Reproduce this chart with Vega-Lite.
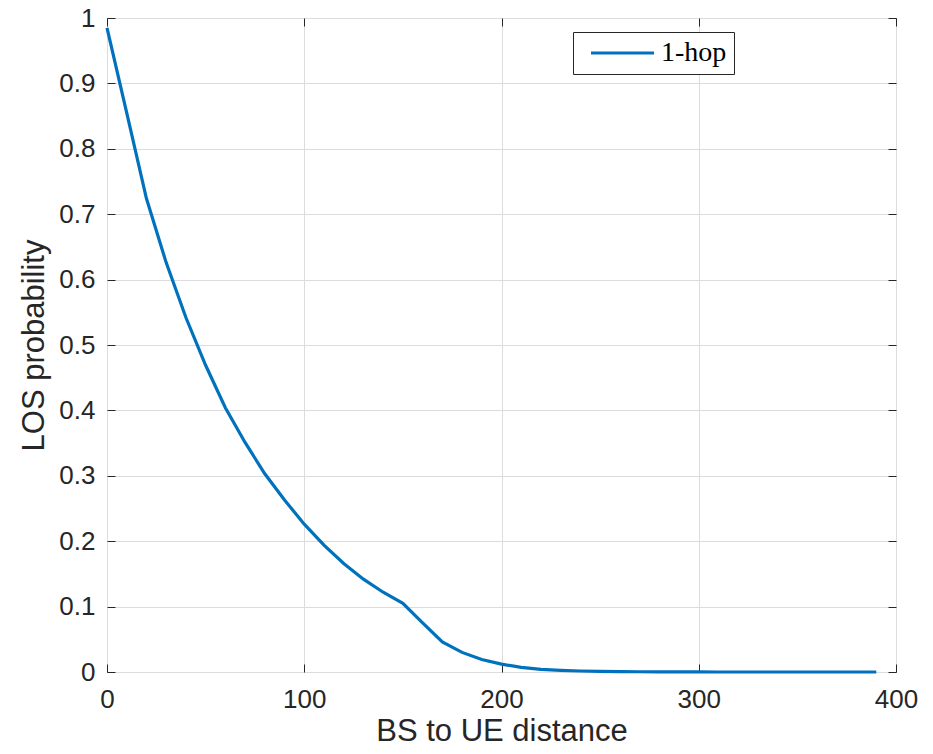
{
  "$schema": "https://vega.github.io/schema/vega-lite/v6.json",
  "autosize": "none",
  "padding": {"left": 107, "top": 18, "right": 37, "bottom": 82},
  "width": 789,
  "height": 654,
  "background": "white",
  "config": {
    "font": "Liberation Sans",
    "view": {"stroke": "#262626", "strokeWidth": 1},
    "axis": {
      "labelFont": "Liberation Sans",
      "labelFontSize": 26,
      "labelColor": "#262626",
      "labelFlush": false,
      "titleFont": "Liberation Sans",
      "titleFontSize": 31,
      "titleFontWeight": "normal",
      "titleColor": "#262626",
      "domainColor": "#262626",
      "tickColor": "#262626",
      "gridColor": "#dcdcdc",
      "gridWidth": 1
    }
  },
  "data": {"values": [
    {"d": 0, "p": 0.985, "s": "1-hop"},
    {"d": 10, "p": 0.855, "s": "1-hop"},
    {"d": 20, "p": 0.724, "s": "1-hop"},
    {"d": 30, "p": 0.626, "s": "1-hop"},
    {"d": 40, "p": 0.542, "s": "1-hop"},
    {"d": 50, "p": 0.469, "s": "1-hop"},
    {"d": 60, "p": 0.404, "s": "1-hop"},
    {"d": 70, "p": 0.351, "s": "1-hop"},
    {"d": 80, "p": 0.303, "s": "1-hop"},
    {"d": 90, "p": 0.263, "s": "1-hop"},
    {"d": 100, "p": 0.226, "s": "1-hop"},
    {"d": 110, "p": 0.194, "s": "1-hop"},
    {"d": 120, "p": 0.166, "s": "1-hop"},
    {"d": 130, "p": 0.142, "s": "1-hop"},
    {"d": 140, "p": 0.122, "s": "1-hop"},
    {"d": 150, "p": 0.105, "s": "1-hop"},
    {"d": 160, "p": 0.075, "s": "1-hop"},
    {"d": 170, "p": 0.046, "s": "1-hop"},
    {"d": 180, "p": 0.030, "s": "1-hop"},
    {"d": 190, "p": 0.019, "s": "1-hop"},
    {"d": 200, "p": 0.012, "s": "1-hop"},
    {"d": 210, "p": 0.007, "s": "1-hop"},
    {"d": 220, "p": 0.004, "s": "1-hop"},
    {"d": 230, "p": 0.0025, "s": "1-hop"},
    {"d": 240, "p": 0.0015, "s": "1-hop"},
    {"d": 250, "p": 0.001, "s": "1-hop"},
    {"d": 260, "p": 0.0006, "s": "1-hop"},
    {"d": 270, "p": 0.0004, "s": "1-hop"},
    {"d": 280, "p": 0.0002, "s": "1-hop"},
    {"d": 290, "p": 0.0001, "s": "1-hop"},
    {"d": 300, "p": 0.0001, "s": "1-hop"},
    {"d": 310, "p": 0, "s": "1-hop"},
    {"d": 320, "p": 0, "s": "1-hop"},
    {"d": 330, "p": 0, "s": "1-hop"},
    {"d": 340, "p": 0, "s": "1-hop"},
    {"d": 350, "p": 0, "s": "1-hop"},
    {"d": 360, "p": 0, "s": "1-hop"},
    {"d": 370, "p": 0, "s": "1-hop"},
    {"d": 380, "p": 0, "s": "1-hop"},
    {"d": 390, "p": 0, "s": "1-hop"}
  ]},
  "layer": [
    {
      "mark": {"type": "line", "strokeWidth": 3.2, "interpolate": "linear"},
      "encoding": {
        "x": {"field": "d", "type": "quantitative", "scale": {"domain": [0, 400], "nice": false},
          "axis": {"title": "BS to UE distance", "values": [0, 100, 200, 300, 400], "tickSize": -8, "labelPadding": 22, "titlePadding": 4, "domain": false}},
        "y": {"field": "p", "type": "quantitative", "scale": {"domain": [0, 1], "nice": false},
          "axis": {"title": "LOS probability", "values": [0, 0.1, 0.2, 0.3, 0.4, 0.5, 0.6, 0.7, 0.8, 0.9, 1], "format": "~g", "tickSize": -8, "labelPadding": 20, "titlePadding": 8, "domain": false}},
        "color": {"field": "s", "type": "nominal", "scale": {"range": ["#0072BD"]},
          "legend": {"title": null, "orient": "none", "legendX": 466, "legendY": 14,
            "symbolType": "M-0.3,0H6", "symbolSize": 400, "symbolStrokeWidth": 3,
            "labelFont": "Liberation Serif", "labelFontSize": 28, "labelColor": "#000000",
            "labelOffset": 53, "padding": 7, "strokeColor": "#262626", "fillColor": "white"}}
      }
    },
    {
      "mark": {"type": "line", "opacity": 0},
      "encoding": {
        "x": {"field": "d", "type": "quantitative", "scale": {"domain": [0, 400], "nice": false},
          "axis": {"orient": "top", "title": null, "labels": false, "grid": false, "domain": false, "values": [0, 100, 200, 300, 400], "tickSize": -8}},
        "y": {"field": "p", "type": "quantitative", "scale": {"domain": [0, 1], "nice": false},
          "axis": {"orient": "right", "title": null, "labels": false, "grid": false, "domain": false, "values": [0, 0.1, 0.2, 0.3, 0.4, 0.5, 0.6, 0.7, 0.8, 0.9, 1], "tickSize": -8}}
      }
    }
  ],
  "resolve": {"axis": {"x": "independent", "y": "independent"}}
}
